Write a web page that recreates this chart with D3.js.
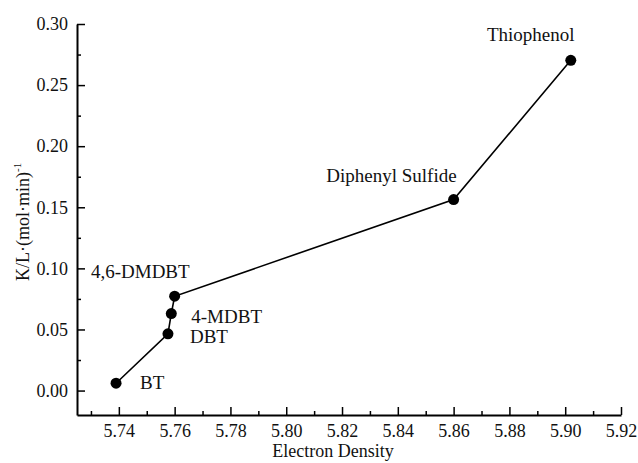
<!DOCTYPE html>
<html>
<head>
<meta charset="utf-8">
<script src="https://cdn.jsdelivr.net/npm/d3@7"></script>
<style>
  body { margin: 0; background: #fff; }
  svg { display: block; }
  svg text { font-family: "Liberation Serif", "Times New Roman", serif; }
</style>
</head>
<body>
<svg width="638" height="463"></svg>
<script>
// compounds, electron density and rate constant
const compounds = ["BT", "DBT", "4-MDBT", "4,6-DMDBT", "Diphenyl Sulfide", "Thiophenol"];
const density = [5.739, 5.7576, 5.7588, 5.760, 5.860, 5.902];
const rate = [0.006, 0.0464, 0.063, 0.0772, 0.1563, 0.2703];

const xTicks = [5.74, 5.76, 5.78, 5.80, 5.82, 5.84, 5.86, 5.88, 5.90, 5.92];
const yTicks = [0.00, 0.05, 0.10, 0.15, 0.20, 0.25, 0.30];

// where each label sits relative to its dot
const labelPos = {
  "BT": {dx: 24, dy: 6, anchor: "start"},
  "DBT": {dx: 22, dy: 9, anchor: "start"},
  "4-MDBT": {dx: 20, dy: 9, anchor: "start"},
  "4,6-DMDBT": {dx: 15, dy: -18, anchor: "end"},
  "Diphenyl Sulfide": {dx: 3, dy: -18, anchor: "end"},
  "Thiophenol": {dx: -40, dy: -19, anchor: "middle"}
};

const data = compounds.map((name, i) => ({name, x: density[i], y: rate[i]}));

const svg = d3.select("svg");
const x = d3.scaleLinear().domain([5.725, 5.92]).range([77, 621]);
const y = d3.scaleLinear().domain([-0.02, 0.30]).range([415, 24]);

// minor ticks first so major ones draw over
const xMinor = d3.range(5.73, 5.92, 0.02);
const yMinor = d3.range(0.025, 0.30, 0.05);

svg.append("g")
  .attr("transform", "translate(0,415)")
  .call(d3.axisBottom(x).tickValues(xMinor).tickSize(-4).tickFormat(""))
  .call(g => g.select(".domain").remove());

svg.append("g")
  .attr("transform", "translate(77,0)")
  .call(d3.axisLeft(y).tickValues(yMinor).tickSize(-4).tickFormat(""))
  .call(g => g.select(".domain").remove());

svg.append("g")
  .attr("transform", "translate(0,415)")
  .call(d3.axisBottom(x).tickValues(xTicks).tickSize(-8).tickSizeOuter(0)
    .tickPadding(9).tickFormat(d3.format(".2f")));

svg.append("g")
  .attr("transform", "translate(77,0)")
  .call(d3.axisLeft(y).tickValues(yTicks).tickSize(-8).tickSizeOuter(0)
    .tickPadding(9).tickFormat(d3.format(".2f")));

svg.selectAll("g").attr("font-family", "Liberation Serif");
svg.selectAll(".tick line").attr("stroke", "#000").attr("stroke-width", 1.5);
svg.selectAll(".domain").attr("stroke", "#000").attr("stroke-width", 2);
svg.selectAll(".tick text")
  .attr("font-size", 18)
  .attr("fill", "#111");

// axis titles
svg.append("text")
  .attr("x", 333)
  .attr("y", 457)
  .attr("text-anchor", "middle")
  .attr("font-size", 18)
  .attr("fill", "#111")
  .text("Electron Density");

const yTitle = svg.append("text")
  .attr("transform", "translate(29,281) rotate(-90)")
  .attr("font-size", 18)
  .attr("fill", "#111");
yTitle.append("tspan").text("K/L·(mol·min)");
yTitle.append("tspan").attr("dy", -8).attr("font-size", 11).text("-1");

// connecting line and dots
svg.append("path")
  .datum(data)
  .attr("fill", "none")
  .attr("stroke", "#000")
  .attr("stroke-width", 1.6)
  .attr("d", d3.line().x(d => x(d.x)).y(d => y(d.y)));

svg.selectAll("circle")
  .data(data)
  .join("circle")
  .attr("cx", d => x(d.x))
  .attr("cy", d => y(d.y))
  .attr("r", 5.5)
  .attr("fill", "#000");

svg.selectAll("text.lbl")
  .data(data)
  .join("text")
  .attr("class", "lbl")
  .attr("x", d => x(d.x) + labelPos[d.name].dx)
  .attr("y", d => y(d.y) + labelPos[d.name].dy)
  .attr("text-anchor", d => labelPos[d.name].anchor)
  .attr("font-size", 19)
  .attr("fill", "#111")
  .text(d => d.name);
</script>
</body>
</html>
